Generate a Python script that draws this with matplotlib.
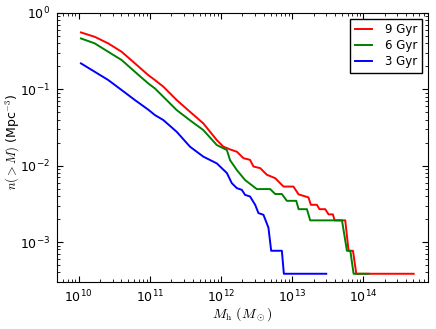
import numpy as np
import matplotlib
matplotlib.use("Agg")
import matplotlib.pyplot as plt

plt.rcParams['font.family'] = ['DejaVu Sans']
plt.rcParams['mathtext.fontset'] = 'cm'
plt.rcParams['font.size'] = 9

# cumulative halo mass function
m_9 = [1.08e10, 1.69e10, 2.61e10, 4.03e10, 6.19e10, 9.53e10, 1.18e11, 1.55e11,
       2.39e11, 3.67e11, 5.65e11, 8.73e11, 1.08e12, 1.34e12, 1.67e12, 2.07e12,
       2.56e12, 2.86e12, 3.55e12, 4.41e12, 5.77e12, 7.55e12, 1.04e13, 1.23e13,
       1.69e13, 1.83e13, 2.22e13, 2.42e13, 2.91e13, 3.24e13, 3.73e13, 3.94e13,
       5.56e13, 6.19e13, 7.14e13, 7.94e13, 5.08e14]
n_9 = [0.554, 0.485, 0.398, 0.309, 0.218, 0.153, 0.132, 0.108,
       0.0721, 0.0507, 0.0357, 0.0216, 0.0177, 0.0163, 0.0152, 0.0125,
       0.0119, 0.00973, 0.00927, 0.00759, 0.00685, 0.00532, 0.00532, 0.0042,
       0.00384, 0.00307, 0.00307, 0.00269, 0.00269, 0.00230, 0.00230, 0.00192,
       0.00192, 0.000768, 0.000768, 0.000384, 0.000384]

m_6 = [1.08e10, 1.69e10, 2.61e10, 4.03e10, 6.19e10, 9.53e10, 1.18e11, 1.55e11,
       2.39e11, 3.67e11, 5.65e11, 8.73e11, 1.21e12, 1.34e12, 1.67e12, 2.18e12,
       3.19e12, 4.91e12, 5.77e12, 7.16e12, 8.41e12, 1.14e13, 1.23e13, 1.61e13,
       1.79e13, 5.00e13, 5.87e13, 6.55e13, 7.28e13, 1.18e14]
n_6 = [0.462, 0.398, 0.309, 0.241, 0.169, 0.119, 0.1025, 0.0796,
       0.0533, 0.0392, 0.0292, 0.0186, 0.0160, 0.0118, 0.00875, 0.00647,
       0.00493, 0.00493, 0.00425, 0.00425, 0.00346, 0.00346, 0.00269, 0.00269,
       0.00192, 0.00192, 0.000768, 0.000768, 0.000384, 0.000384]

m_3 = [1.08e10, 1.69e10, 2.61e10, 4.03e10, 6.19e10, 9.53e10, 1.18e11, 1.55e11,
       2.39e11, 3.67e11, 5.65e11, 8.73e11, 1.21e12, 1.42e12, 1.67e12, 1.96e12,
       2.18e12, 2.56e12, 3.02e12, 3.36e12, 3.95e12, 4.64e12, 5.07e12, 7.16e12,
       7.64e12, 3.01e13]
n_3 = [0.218, 0.169, 0.132, 0.0975, 0.0721, 0.0540, 0.0459, 0.0395,
       0.0277, 0.0177, 0.0131, 0.0107, 0.0080, 0.00589, 0.00507, 0.00482,
       0.00414, 0.00394, 0.00307, 0.00239, 0.00227, 0.00154, 0.000768, 0.000768,
       0.000384, 0.000384]

fig = plt.figure(figsize=(4.36, 3.29), dpi=100)
ax = fig.add_axes([0.131, 0.143, 0.850, 0.818])

ax.plot(m_9, n_9, color='r', lw=1.4, label='9 Gyr')
ax.plot(m_6, n_6, color='g', lw=1.4, label='6 Gyr')
ax.plot(m_3, n_3, color='b', lw=1.4, label='3 Gyr')

ax.set_xscale('log')
ax.set_yscale('log')
ax.set_xlim(5e9, 8e14)
ax.set_ylim(3e-4, 1)

ax.tick_params(which='both', direction='in', top=True, right=True, labelsize=9)
ax.tick_params(which='major', length=4, pad=5)
ax.tick_params(which='minor', length=2)

ax.set_xlabel(r'$M_{\rm h}\ (M_\odot)$', fontsize=10, labelpad=0)
ax.set_ylabel(r'$n(>M)$ (Mpc$^{-3}$)', fontsize=9)
ax.yaxis.set_label_coords(-0.098, 0.52)

leg = ax.legend(loc='upper right', fontsize=8.5, fancybox=False, handlelength=1.4,
                borderpad=0.4, labelspacing=0.25, handletextpad=1.1, framealpha=1)
leg.get_frame().set_edgecolor('black')
leg.get_frame().set_linewidth(1.0)

fig.savefig('out.png', dpi=100)
